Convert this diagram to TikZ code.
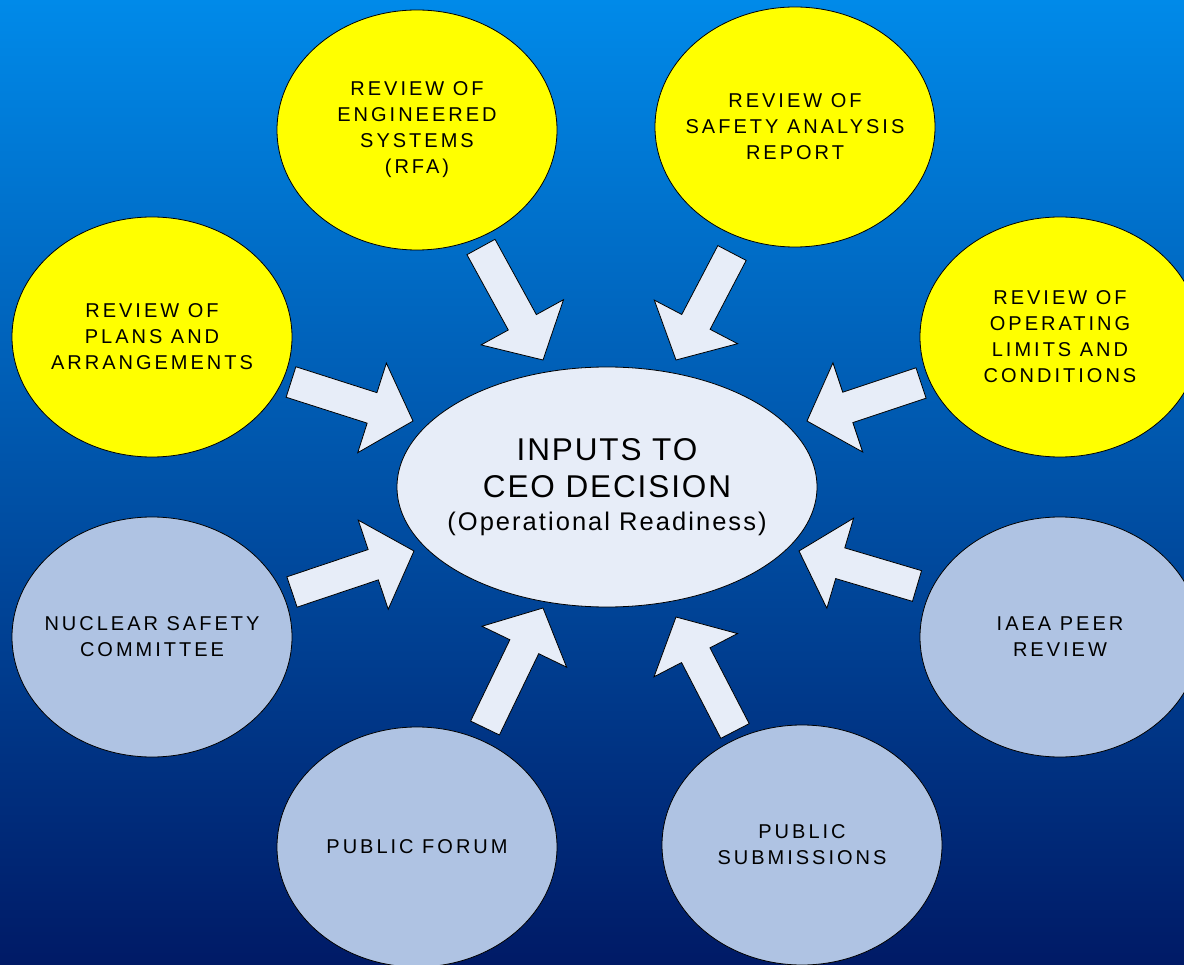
\documentclass[tikz,border=0pt]{standalone}
\usepackage{fontspec}
\setmainfont{Liberation Sans}
\newfontfamily\bubfont[LetterSpace=15]{Liberation Sans}
\newfontfamily\ceofont[LetterSpace=6]{Liberation Sans}
\newfontfamily\ceosubfont[LetterSpace=8]{Liberation Sans}
\usetikzlibrary{calc,shapes.geometric}
\definecolor{bgtop}{RGB}{0,138,233}
\definecolor{bgbot}{RGB}{0,26,102}
\definecolor{bubyellow}{RGB}{255,255,0}
\definecolor{bubgrey}{RGB}{175,195,227}
\definecolor{paleblue}{RGB}{231,237,248}
\newcommand{\blockarrow}[2]{%
  \coordinate (#1n) at ($(#2)!43pt!(#1)$);
  \filldraw[blockarrowstyle]
    ($(#1)!16pt!90:(#2)$) -- ($(#1n)!16pt!-90:(#1)$) -- ($(#1n)!47pt!-90:(#1)$) -- (#2)
    -- ($(#1n)!47pt!90:(#1)$) -- ($(#1n)!16pt!90:(#1)$) -- ($(#1)!16pt!-90:(#2)$) -- cycle;}
\begin{document}
\begin{tikzpicture}[x=1pt,y=-1pt,
    bub/.style={ellipse,draw=black,line width=0.8pt,minimum width=280pt,minimum height=240pt,
      inner xsep=-30pt,inner ysep=0pt,align=center,font=\bubfont\fontsize{20}{26}\selectfont},
    yellowbub/.style={bub,fill=bubyellow},
    greybub/.style={bub,fill=bubgrey},
    ceobub/.style={ellipse,draw=black,line width=0.8pt,fill=paleblue,minimum width=420pt,
      minimum height=240pt,inner xsep=-40pt,inner ysep=0pt,align=center,
      font=\ceofont\fontsize{31.5}{37}\selectfont},
    blockarrowstyle/.style={fill=paleblue,draw=black,line width=0.8pt,line join=miter}]
      \clip (0,0) rectangle (1184,965);
      \shade[top color=bgtop,bottom color=bgbot] (0,0) rectangle (1184,965);
      \node[yellowbub] (rfa) at (417,130) {REVIEW OF\\ENGINEERED\\SYSTEMS\\(RFA)};
      \node[yellowbub] (sar) at (795,127) {REVIEW OF\\SAFETY ANALYSIS\\REPORT};
      \node[yellowbub] (plans) at (152,337) {REVIEW OF\\PLANS AND\\ARRANGEMENTS};
      \node[yellowbub] (oplim) at (1060,337) {REVIEW OF\\OPERATING\\LIMITS AND\\CONDITIONS};
      \node[greybub] (nsc) at (152,637) {NUCLEAR SAFETY\\COMMITTEE};
      \node[greybub] (iaea) at (1060,637) {IAEA PEER\\REVIEW};
      \node[greybub] (forum) at (417,847) {PUBLIC FORUM};
      \node[greybub] (subm) at (802,845) {PUBLIC\\SUBMISSIONS};
      \node[ceobub] (ceo) at (607,487) {INPUTS TO\\CEO DECISION\\[-4pt]
        \ceosubfont\fontsize{25.5}{33}\selectfont (Operational Readiness)};
      \coordinate (a1t) at (481,247); \coordinate (a1h) at (543,360);
      \coordinate (a2t) at (732,253); \coordinate (a2h) at (676,360);
      \coordinate (a3t) at (291,382); \coordinate (a3h) at (413,421);
      \coordinate (a4t) at (921,383); \coordinate (a4h) at (807,421);
      \coordinate (a5t) at (292,592); \coordinate (a5h) at (414,551);
      \coordinate (a6t) at (917,586); \coordinate (a6h) at (799,551);
      \coordinate (a7t) at (485,728); \coordinate (a7h) at (543,608);
      \coordinate (a8t) at (735,731); \coordinate (a8h) at (676,617);
      \blockarrow{a1t}{a1h}
      \blockarrow{a2t}{a2h}
      \blockarrow{a3t}{a3h}
      \blockarrow{a4t}{a4h}
      \blockarrow{a5t}{a5h}
      \blockarrow{a6t}{a6h}
      \blockarrow{a7t}{a7h}
      \blockarrow{a8t}{a8h}
    \end{tikzpicture}
\end{document}
